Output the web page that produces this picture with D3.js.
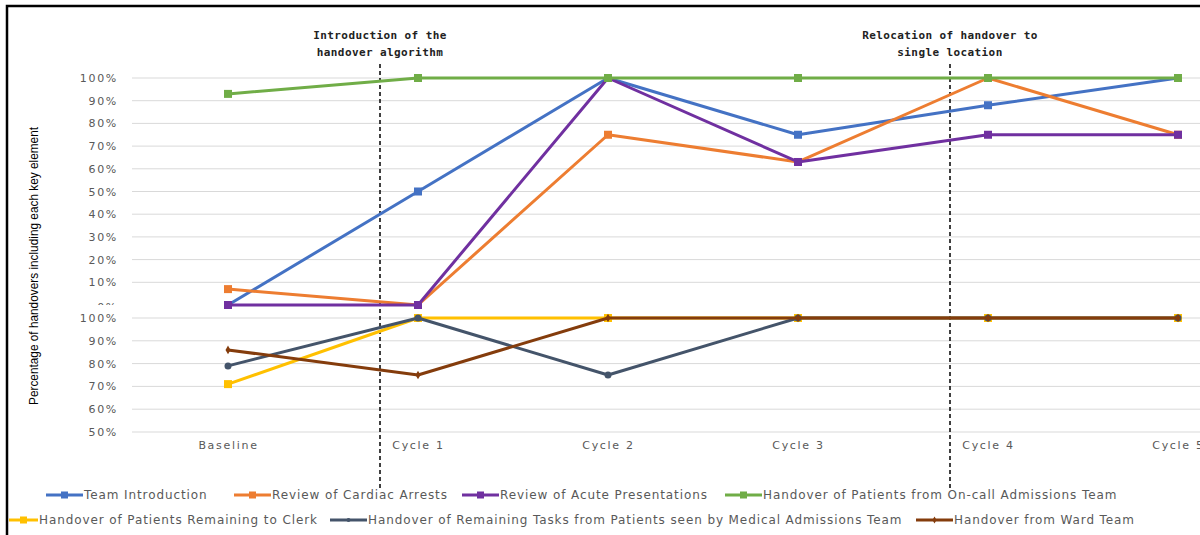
<!DOCTYPE html>
<html><head><meta charset="utf-8">
<script src="https://cdn.jsdelivr.net/npm/d3@7"></script>
<style>
body{margin:0;background:#fff;}
svg{display:block;}
</style></head>
<body>
<svg id="c" width="1200" height="535"></svg>
<script>
const categories = ["Baseline","Cycle 1","Cycle 2","Cycle 3","Cycle 4","Cycle 5"];
const upperTicks = [0,0.1,0.2,0.3,0.4,0.5,0.6,0.7,0.8,0.9,1.0];
const lowerTicks = [0.5,0.6,0.7,0.8,0.9,1.0];

const teamIntro      = [0, 0.50, 1.00, 0.75, 0.88, 1.00];
const cardiacArrests = [0.07, 0, 0.75, 0.63, 1.00, 0.75];
const acutePres      = [0, 0, 1.00, 0.63, 0.75, 0.75];
const onCallTeam     = [0.93, 1.00, 1.00, 1.00, 1.00, 1.00];

const remainingClerk = [0.71, 1.00, 1.00, 1.00, 1.00, 1.00];
const remainingTasks = [0.79, 1.00, 0.75, 1.00, 1.00, 1.00];
const wardTeam       = [0.86, 0.75, 1.00, 1.00, 1.00, 1.00];

const upperSeries = [
  {name:"Team Introduction", values:teamIntro, color:"#4472C4", marker:"square"},
  {name:"Review of Cardiac Arrests", values:cardiacArrests, color:"#ED7D31", marker:"square"},
  {name:"Review of Acute Presentations", values:acutePres, color:"#7030A0", marker:"square"},
  {name:"Handover of Patients from On-call Admissions Team", values:onCallTeam, color:"#70AD47", marker:"square"}
];
const lowerSeries = [
  {name:"Handover of Patients Remaining to Clerk", values:remainingClerk, color:"#FFC000", marker:"square"},
  {name:"Handover of Remaining Tasks from Patients seen by Medical Admissions Team", values:remainingTasks, color:"#44546A", marker:"circle"},
  {name:"Handover from Ward Team", values:wardTeam, color:"#843C0C", marker:"diamond"}
];
const annotations = [
  {after:0, lines:["Introduction of the","handover algorithm"]},
  {after:3, lines:["Relocation of handover to","single location"]}
];

const svg = d3.select("#c");
const x = d3.scalePoint().domain(categories).range([228, 1178]);
const yU = d3.scaleLinear().domain([0,1]).range([305,78]);
const yL = d3.scaleLinear().domain([0.5,1]).range([432,318]);
const gridX0 = 132, gridX1 = 1200;
const tickFont = "DejaVu Sans, sans-serif";
const grey = "#595959";

// frame
svg.append("path").attr("d","M7,535 V6 H1200").attr("fill","none").attr("stroke","#000").attr("stroke-width",2.5);

// gridlines
function grid(scale, ticks, skip){
  svg.append("g").selectAll("line").data(ticks.filter(t=>!skip.includes(t))).join("line")
    .attr("x1",gridX0).attr("x2",gridX1)
    .attr("y1",d=>scale(d)).attr("y2",d=>scale(d))
    .attr("stroke","#d9d9d9").attr("stroke-width",1);
}
grid(yU, upperTicks, [0]);
grid(yL, lowerTicks, []);

// y axes using d3 axis
const fmt = d3.format(".0%");
function styleTicks(sel){
  sel.attr("fill",grey).style("font-family",tickFont).style("font-size","11px").style("letter-spacing","1.7px");
}
function yAxis(scale, ticks){
  const g = svg.append("g").attr("transform",`translate(${gridX0},0)`)
    .call(d3.axisLeft(scale).tickValues(ticks).tickFormat(fmt).tickSize(0).tickPadding(14));
  g.select(".domain").remove();
  styleTicks(g.selectAll("text"));
  return g;
}
svg.append("clipPath").attr("id","clipU").append("rect").attr("x",-300).attr("y",0).attr("width",1500).attr("height",305);
const gU = yAxis(yU, upperTicks);
gU.attr("clip-path","url(#clipU)");
gU.selectAll(".tick").filter(d=>d===0).attr("transform",`translate(0,${yU(0)+2})`);
yAxis(yL, lowerTicks);

// x axis labels
const gx = svg.append("g").attr("transform","translate(0,432)")
  .call(d3.axisBottom(x).tickSize(0).tickPadding(9));
gx.select(".domain").remove();
styleTicks(gx.selectAll("text"));

// y title
svg.append("text").attr("transform","translate(38,266) rotate(-90)")
  .attr("text-anchor","middle").attr("fill","#000")
  .style("font-family","Liberation Sans Narrow, Liberation Sans, sans-serif").style("font-size","13.5px")
  .attr("textLength",278).attr("lengthAdjust","spacingAndGlyphs")
  .text("Percentage of handovers including each key element");

// annotations
annotations.forEach(a=>{
  const ax = x(categories[a.after]) + 0.8*(x(categories[a.after+1]) - x(categories[a.after]));
  svg.append("line").attr("x1",ax).attr("x2",ax).attr("y1",64).attr("y2",488)
    .attr("stroke","#000").attr("stroke-width",1.5).attr("stroke-dasharray","4,3");
  const t = svg.append("text").attr("text-anchor","middle").attr("fill","#222")
    .style("font-family","DejaVu Sans Mono, monospace").style("font-size","11px").style("font-weight","bold").style("letter-spacing","0.4px");
  a.lines.forEach((l,i)=>t.append("tspan").attr("x",ax).attr("y",39+i*17).text(l));
});

// series
function drawMarker(g, type, color, cx, cy, legend){
  if(type==="square"){
    const s = legend?7:8;
    g.append("rect").attr("x",cx-s/2).attr("y",cy-s/2).attr("width",s).attr("height",s).attr("fill",color);
  } else if(type==="circle"){
    g.append("circle").attr("cx",cx).attr("cy",cy).attr("r",legend?2:3.5).attr("fill",color);
  } else {
    g.append("path").attr("d",d3.symbol(d3.symbolDiamond, legend?14:22)()).attr("transform",`translate(${cx},${cy})`).attr("fill",color);
  }
}
function drawSeries(list, y){
  list.forEach(s=>{
    const g = svg.append("g");
    const line = d3.line().x((d,i)=>x(categories[i])).y(d=>y(d));
    g.append("path").datum(s.values).attr("d",line).attr("fill","none").attr("stroke",s.color).attr("stroke-width",3).attr("stroke-linejoin","round");
    s.values.forEach((v,i)=>drawMarker(g, s.marker, s.color, x(categories[i]), y(v), false));
  });
}
drawSeries(upperSeries, yU);
drawSeries(lowerSeries, yL);

// legend
const legendRows = [
  {y:495, items:[[upperSeries[0],46],[upperSeries[1],234],[upperSeries[2],462],[upperSeries[3],725]]},
  {y:520, items:[[lowerSeries[0],9],[lowerSeries[1],330],[lowerSeries[2],916]]}
];
legendRows.forEach(r=>{
  r.items.forEach(([s,lx],k)=>{
    const g = svg.append("g");
    const len = (r.y===520 && k===0) ? 29 : 37;
    g.append("line").attr("x1",lx).attr("x2",lx+len).attr("y1",r.y).attr("y2",r.y).attr("stroke",s.color).attr("stroke-width",3);
    drawMarker(g, s.marker, s.color, lx+len/2, r.y, true);
    g.append("text").attr("x",lx+len+1).attr("y",r.y+4).attr("fill",grey)
      .style("font-family",tickFont).style("font-size","12px").style("letter-spacing","0.9px").text(s.name);
  });
});
</script>
</body></html>
